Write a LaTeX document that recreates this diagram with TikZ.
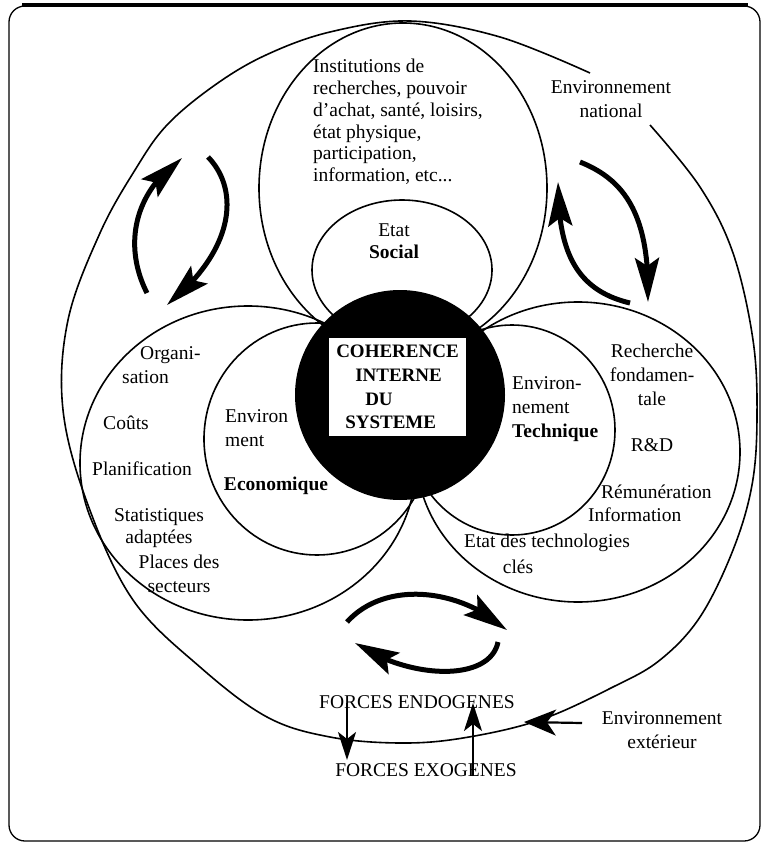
\documentclass[tikz,border=0pt]{standalone}
\usepackage{fontspec}
\setmainfont{Liberation Serif}
\usetikzlibrary{arrows.meta,bending}
\begin{document}
\begin{tikzpicture}[x=1pt,y=-1pt,
  ring/.style={line width=1.6pt},
  lbl/.style={font=\fontsize{19.5pt}{22pt}\selectfont, inner sep=0pt},
  lblw/.style={font=\fontsize{19.5pt}{24pt}\selectfont, inner sep=0pt},
  boxtxt/.style={font=\bfseries\fontsize{19pt}{23.7pt}\selectfont},
  bigarrow/.style={line width=5pt, -{Stealth[length=44pt,width=24pt,inset=8pt]}},
  thinarrow/.style={line width=2.2pt, -{Stealth[length=28pt,width=18pt,inset=7pt]}}
]
\useasboundingbox (0,0) rectangle (763,845);
% frame
\draw[line width=1.3pt, rounded corners=16pt] (9,6) rectangle (760,841);
\draw[line width=4pt] (22,5) -- (748,5);

% outer environment (open near the label)
\draw[ring] plot[smooth, tension=0.6] coordinates {(590,73) (500,37) (410,21) (330,32) (266,55) (215,85) (167,125) (135,170) (100,233) (68,320) (63,410) (88,505) (133,600) (200,667) (267,717) (330,737) (400,743) (463,738) (540,720) (613,687) (660,660) (700,617) (733,550) (752,485) (757,417) (753,340) (733,253) (700,187) (650,125)};

% petals
\draw[ring] (403,188) ellipse[x radius=144pt, y radius=165pt];
\draw[ring] (248,463) ellipse[x radius=168pt, y radius=157pt];
\draw[ring] (578,452) ellipse[x radius=162pt, y radius=150pt];
% inner ellipses
\draw[ring] (317,439) ellipse[x radius=113pt, y radius=116pt];
\draw[ring] (512,430) ellipse[x radius=103pt, y radius=105pt];
\draw[ring] (402,270) ellipse[x radius=90pt, y radius=70pt];
% core
\fill (400,395) circle[radius=105pt];
\node[fill=white, boxtxt, align=left, minimum width=137pt, minimum height=98pt, inner sep=0pt] (coh) at (397.5,387)
  {COHERENCE\\\hspace*{19pt}INTERNE\\\hspace*{29pt}DU\\\hspace*{9pt}SYSTEME};

% labels
\node[lblw, align=center] (natl) at (611,99) {Environnement\\national};
\node[font=\fontsize{19.5pt}{21.8pt}\selectfont, inner sep=0pt, align=left, anchor=west] (soc) at (313,122)
  {Institutions de\\recherches, pouvoir\\d'achat, santé, loisirs,\\état physique,\\participation,\\information, etc...};
\node[lbl, align=center] (etat) at (394,241) {Etat\\\textbf{Social}};

\node[lblw, align=left, anchor=west] (org) at (122,365) {\hspace*{18pt}Organi-\\sation};
\node[lbl] (couts) at (126,423) {Coûts};
\node[lbl] (plan) at (142,469) {Planification};
\node[lbl, align=center] (stat) at (159,528) {Statistiques\\adaptées};
\node[lblw, align=center] (places) at (179,574) {Places des\\secteurs};
\node[lblw, align=left, anchor=west] (envl) at (225,428) {Environ\\ment};
\node[lbl] (eco) at (276,486) {\textbf{Economique}};

\node[lblw, align=left, anchor=west] (envr) at (512,409) {Environ-\\nement\\\textbf{Technique}};
\node[lblw, align=center] (rech) at (652,375) {Recherche\\fondamen-\\tale};
\node[lbl] (rd) at (652,445) {R\&D};
\node[font=\fontsize{19.5pt}{23pt}\selectfont, inner sep=0pt, align=left, anchor=west] (remu) at (588,503) {\hspace*{13pt}Rémunération\\Information};
\node[lbl] (etatt) at (547,543) {Etat des technologies};
\node[lbl] (cles) at (518,567) {clés};

\node[lbl] (endo) at (417,702) {FORCES ENDOGENES};
\node[lbl] (exo) at (426,770) {FORCES EXOGENES};
\node[lblw, align=center] (ext) at (662,730) {Environnement\\extérieur};

% big curved arrows
\coordinate (la1) at (147,293); \coordinate (la2) at (182,158);
\draw[bigarrow] (la1) .. controls (125,250) and (130,195) .. (la2);
\coordinate (lb1) at (208,157); \coordinate (lb2) at (167,305);
\draw[bigarrow] (lb1) .. controls (240,190) and (235,250) .. (lb2);
\coordinate (ra1) at (580,162); \coordinate (ra2) at (648,302);
\draw[bigarrow] (ra1) .. controls (625,180) and (650,215) .. (ra2);
\coordinate (rb1) at (630,303); \coordinate (rb2) at (558,182);
\draw[bigarrow] (rb1) .. controls (575,290) and (558,250) .. (rb2);
\coordinate (ba1) at (347,622); \coordinate (ba2) at (507,630);
\draw[bigarrow] (ba1) .. controls (385,580) and (460,588) .. (ba2);
\coordinate (bb1) at (498,642); \coordinate (bb2) at (355,643);
\draw[bigarrow] (bb1) .. controls (490,682) and (410,680) .. (bb2);

% forces arrows
\coordinate (d1) at (347,703); \coordinate (d2) at (347,760);
\draw[thinarrow] (d1) -- (d2);
\coordinate (u1) at (473,776); \coordinate (u2) at (473,703);
\draw[thinarrow] (u1) -- (u2);
\coordinate (h1) at (582,723); \coordinate (h2) at (524,722);
\draw[line width=2.2pt, -{Stealth[length=32pt,width=26pt,inset=9pt]}] (h1) -- (h2);
\end{tikzpicture}
\end{document}
